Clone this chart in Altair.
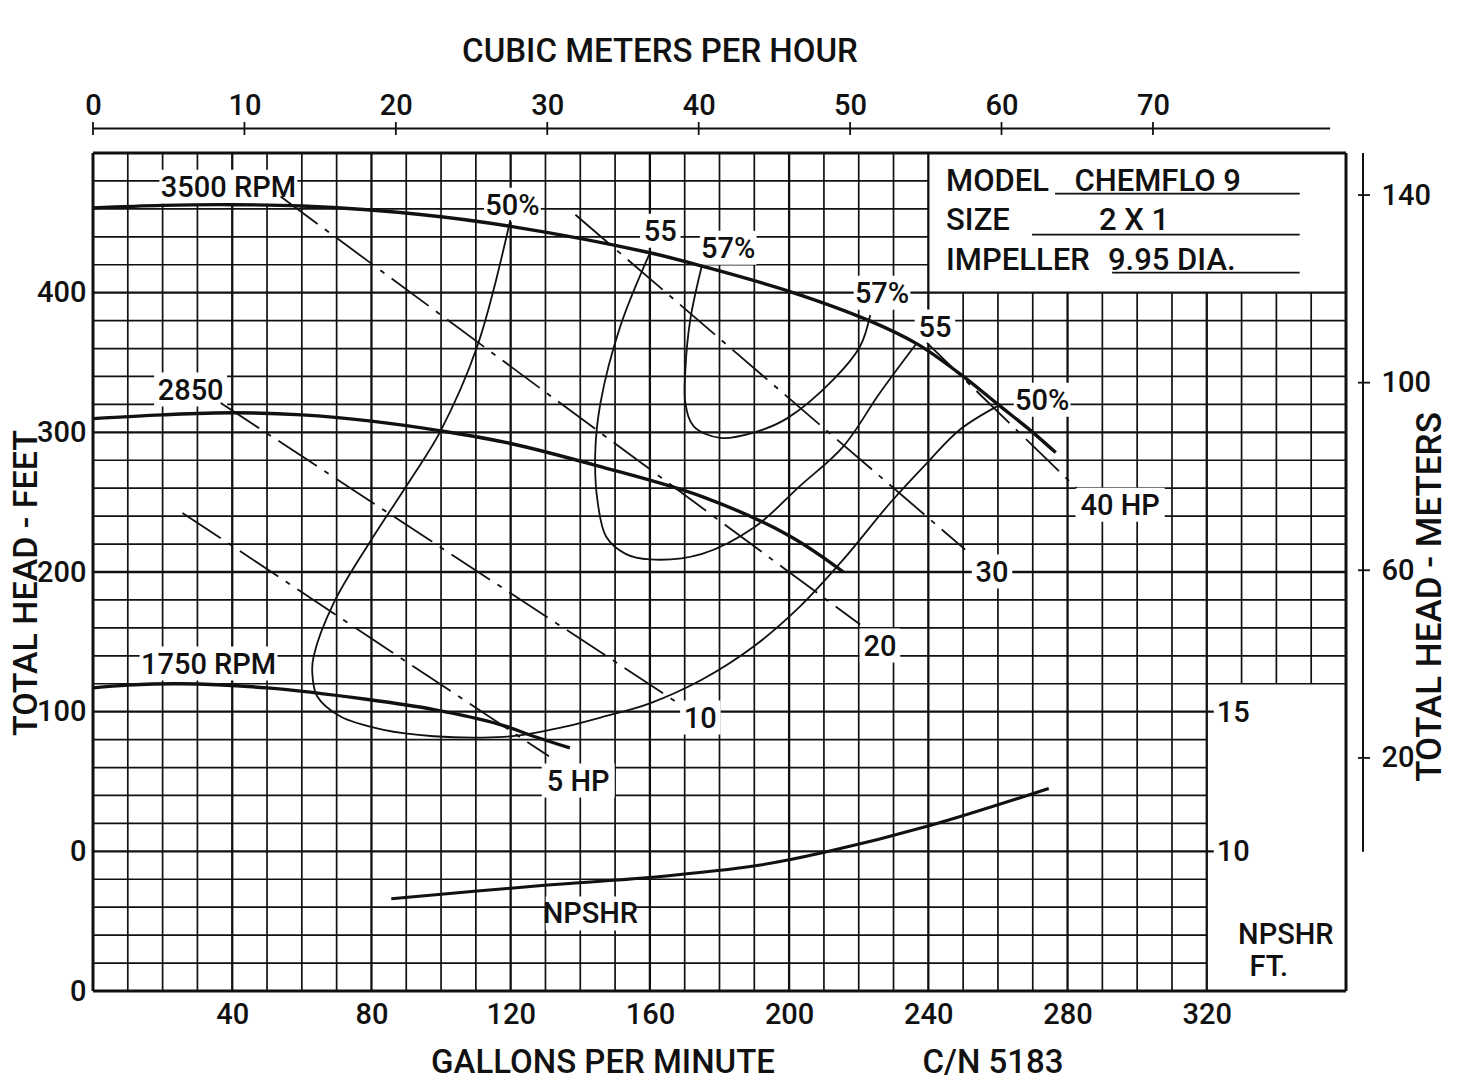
import altair as alt
import pandas as pd

W, H = 1253, 838
XMAX = 360
YMIN, YMAX = -100, 500
M3H_MAX = 82.75
M_MIN, M_MAX = -29.7, 148.96

FONT = "Roboto"
FW = 500
FS = 29
INK = "#111111"

# ---------------- data ----------------
gpm_ticks = [40, 80, 120, 160, 200, 240, 280, 320]
ft_ticks = [-100, 0, 100, 200, 300, 400]
m3h_ticks = [0, 10, 20, 30, 40, 50, 60, 70]
m_ticks = [20, 60, 100, 140]
npshr_tick_ft = [100, 0]
npshr_tick_text = ["15", "10"]

# head-capacity curves (GPM, feet)
q3500 = [0, 20, 40, 60, 94, 120, 160, 175, 200, 223, 237, 249, 260, 270, 276.6]
h3500 = [460.7, 462.5, 463, 462, 456, 447.5, 428.6, 419, 401, 380, 363, 342, 320, 300, 285.5]
q2850 = [0, 20, 40, 60, 80, 100, 120, 145, 175, 200, 215.6]
h2850 = [309.8, 312.5, 314, 312.5, 308, 301, 292, 276, 254, 226, 200]
q1750 = [0, 10, 25, 50, 79, 98, 117, 126.6, 137]
h1750 = [117, 119, 120, 117, 108.7, 101.5, 90.8, 82.4, 74]

# efficiency curves
q_e50 = [119.9, 110.4, 99.8, 91.2, 79.7, 69.2, 63.4, 63, 64.4, 71, 83.5, 97.9, 112, 121.8, 136,
         145.8, 160, 175, 190, 203, 215.6, 229, 239.6, 249.1, 259.7]
h_e50 = [452, 361.6, 300.7, 266, 222, 178, 139.7, 128, 111, 96.7, 87, 82.4, 81.4, 82.8, 89.5,
         95.8, 106, 123, 147, 175, 209, 249.4, 278, 302, 318.6]
q_e55 = [160, 151.5, 145.8, 144.3, 145, 147.5, 153, 160, 175, 190, 203, 215.6, 226, 236.7]
h_e55 = [428.4, 375.9, 321, 285.5, 250, 225, 213, 209, 213, 232, 261.3, 290, 328, 364]
q_e57 = [175, 171.6, 170.2, 170.2, 172.6, 180.2, 189.8, 199.4, 212.7, 220.4, 223.3]
h_e57 = [420, 380.7, 344.9, 321, 304.3, 296, 299.8, 310, 337.7, 361.6, 384]

# horsepower lines (start / end)
hp_names = ["5 HP", "10", "20", "30", "40 HP"]
hp_q0 = [25.7, 36.7, 53.9, 138.6, 239.6]
hp_h0 = [242.3, 321, 468.8, 455.8, 364]
hp_q1 = [131, 168.8, 220.4, 250.6, 282.6]
hp_h1 = [68, 105, 162.4, 216, 260]

# NPSHR curve (plotted against the feet grid)
q_np = [85.7, 128.9, 160.5, 190.8, 211.4, 240.2, 274.6]
h_np = [-34, -24.5, -18.6, -10.2, 0, 18.3, 45]

# curve labels (centre, GPM / feet)
lab_text = ["3500 RPM", "2850", "1750 RPM", "50%", "55", "57%", "57%", "55", "50%",
            "40 HP", "30", "20", "10", "5 HP", "NPSHR"]
lab_q = [38.9, 28.05, 33.2, 120.5, 163.0, 182.5, 226.7, 241.9, 272.7,
         295.1, 258.3, 226.1, 174.5, 139.4, 142.9]
lab_h = [475.9, 330.6, 134.4, 463, 444.4, 432.2, 400, 375.7, 323.4,
         248.2, 200.3, 147.3, 95.8, 50.7, -44.5]

# model box
box_keys = ["MODEL", "SIZE", "IMPELLER"]
box_key_h = [480.2, 452.3, 423.6]
box_vals = ["CHEMFLO 9", "2 X 1", "9.95 DIA."]
box_val_q = [305.9, 299.1, 291.6]
box_val_align = ["center", "center", "left"]
ul_q0 = [276.4, 269.8, 292.8]
ul_q1 = [346.7, 346.7, 346.7]
ul_h = [470.9, 441.5, 414.3]

# ---------------- scales ----------------
xs = alt.Scale(domain=[0, XMAX], nice=False, zero=False)
ys = alt.Scale(domain=[YMIN, YMAX], nice=False, zero=False)
m3s = alt.Scale(domain=[0, M3H_MAX], nice=False, zero=False)
ms = alt.Scale(domain=[M_MIN, M_MAX], nice=False, zero=False)
PX_Q = XMAX / W
PX_H = (YMAX - YMIN) / H

AX = dict(title=None, domain=False, ticks=False, tickSize=0, grid=False, labelFont=FONT,
          labelFontWeight=FW, labelFontSize=FS, labelColor=INK, labelFlush=False, labelOverlap=False)


def X(f, **k):
    return alt.X(f, scale=xs, axis=None, **k)


def Y(f, **k):
    return alt.Y(f, scale=ys, axis=None, **k)


# ---------------- grid ----------------
vrows = []
for g in range(0, XMAX + 1, 10):
    y0, y1 = YMIN, YMAX
    if 240 < g < XMAX:
        y1 = 400
    if 320 < g < XMAX:
        y0 = 120
    w = 3.0 if g in (0, XMAX) else (2.3 if g % 40 == 0 else 1.7)
    vrows.append({"x": g, "y": y0, "y2": y1, "w": w})
hrows = []
for h in range(YMIN, YMAX + 1, 20):
    x0, x1 = 0, XMAX
    if 400 < h < YMAX:
        x1 = 240
    if YMIN < h < 120:
        x1 = 322 if h in (0, 100) else 320
    w = 3.0 if h in (YMIN, YMAX) else (2.3 if h % 100 == 0 else 1.7)
    hrows.append({"y": h, "x": x0, "x2": x1, "w": w})

grid_v = alt.Chart(pd.DataFrame(vrows)).mark_rule(color=INK).encode(
    x=alt.X("x:Q", scale=xs, axis=alt.Axis(orient="bottom", values=gpm_ticks, labelPadding=9, **AX)),
    y=Y("y:Q"), y2="y2:Q",
    strokeWidth=alt.StrokeWidth("w:Q", scale=None),
)
grid_h = alt.Chart(pd.DataFrame(hrows)).mark_rule(color=INK).encode(
    y=alt.Y("y:Q", scale=ys, axis=alt.Axis(orient="left", values=ft_ticks, labelPadding=7,
                                            labelExpr="datum.value == -100 ? '0' : datum.label", **AX)),
    x=X("x:Q"), x2="x2:Q",
    strokeWidth=alt.StrokeWidth("w:Q", scale=None),
)

# ---------------- label backgrounds ----------------
brows = []
for t, q, h in zip(lab_text, lab_q, lab_h):
    wpx = 0.56 * FS * len(t) + 8
    hpx = 34
    brows.append({"x": q - wpx / 2 * PX_Q, "x2": q + wpx / 2 * PX_Q,
                  "y": h - hpx / 2 * PX_H, "y2": h + hpx / 2 * PX_H})
boxes = alt.Chart(pd.DataFrame(brows)).mark_rect(color="white").encode(
    x=X("x:Q"), x2="x2:Q", y=Y("y:Q"), y2="y2:Q")


# ---------------- curves ----------------
def curve_df(name, qs, hs):
    return pd.DataFrame({"name": name, "q": qs, "h": hs, "i": range(len(qs))})


hq = pd.concat([curve_df("3500", q3500, h3500), curve_df("2850", q2850, h2850),
                curve_df("1750", q1750, h1750)])
eff = pd.concat([curve_df("e50", q_e50, h_e50), curve_df("e55", q_e55, h_e55),
                 curve_df("e57", q_e57, h_e57)])
hp = pd.concat([curve_df(n, [a, b], [c, d]) for n, a, c, b, d in zip(hp_names, hp_q0, hp_h0, hp_q1, hp_h1)])
npd = curve_df("np", q_np, h_np)


def lines(df, width, dash=None, interp="catmull-rom"):
    kw = dict(color=INK, strokeWidth=width, interpolate=interp, clip=False)
    if dash:
        kw["strokeDash"] = dash
    return alt.Chart(df).mark_line(**kw).encode(
        x=X("q:Q"), y=Y("h:Q"), detail="name:N", order="i:Q")


hq_l = lines(hq, 3.4)
eff_l = lines(eff, 1.8)
hp_l = lines(hp, 1.8, dash=[46, 9, 5, 9], interp="linear")
np_l = lines(npd, 3.0)

# ---------------- text ----------------
tstyle = dict(font=FONT, fontWeight=FW, fontSize=FS, color=INK)
bstyle = dict(font=FONT, fontWeight=FW, fontSize=31, color=INK)
labels = alt.Chart(pd.DataFrame({"t": lab_text, "q": lab_q, "h": lab_h})).mark_text(
    align="center", baseline="middle", dy=1, **tstyle).encode(x=X("q:Q"), y=Y("h:Q"), text="t:N")

npt = alt.Chart(pd.DataFrame({"t": npshr_tick_text, "h": npshr_tick_ft, "q": [322] * 2})).mark_text(
    align="left", baseline="middle", dx=3, dy=1, **tstyle).encode(x=X("q:Q"), y=Y("h:Q"), text="t:N")

np_unit = alt.Chart(pd.DataFrame({"t": ["NPSHR", "FT."], "q": [342.7, 337.8], "h": [-59.9, -82.5]})).mark_text(
    align="center", baseline="middle", **tstyle).encode(x=X("q:Q"), y=Y("h:Q"), text="t:N")

key_t = alt.Chart(pd.DataFrame({"t": box_keys, "h": box_key_h, "q": [245.1] * 3})).mark_text(
    align="left", baseline="middle", dy=1, **bstyle).encode(x=X("q:Q"), y=Y("h:Q"), text="t:N")
val_df = pd.DataFrame({"t": box_vals, "q": box_val_q, "h": box_key_h, "a": box_val_align})
val_c = alt.Chart(val_df[val_df.a == "center"]).mark_text(
    align="center", baseline="middle", dy=1, **bstyle).encode(x=X("q:Q"), y=Y("h:Q"), text="t:N")
val_l = alt.Chart(val_df[val_df.a == "left"]).mark_text(
    align="left", baseline="middle", dy=1, **bstyle).encode(x=X("q:Q"), y=Y("h:Q"), text="t:N")
ul = alt.Chart(pd.DataFrame({"a": ul_q0, "b": ul_q1, "h": ul_h})).mark_rule(color=INK, strokeWidth=1.8).encode(
    x=X("a:Q"), x2="b:Q", y=Y("h:Q"))


def title_text(txt, x, y, size, angle=0):
    return alt.Chart(pd.DataFrame({"t": [txt]})).mark_text(
        align="center", baseline="middle", angle=angle, font=FONT, fontWeight=FW,
        fontSize=size, color=INK).encode(x=alt.value(x), y=alt.value(y), text="t:N")


titles = [
    title_text("CUBIC METERS PER HOUR", 567, -101, 33),
    title_text("GALLONS PER MINUTE", 510, 910, 33),
    title_text("C/N 5183", 900, 910, 33),
    title_text("TOTAL HEAD - FEET", -66, 430, 34, 270),
    title_text("TOTAL HEAD - METERS", 1337, 444, 35, 270),
]

# ---------------- top axis (m3/h) ----------------
top_ticks = alt.Chart(pd.DataFrame({"m": m3h_ticks})).mark_rule(color=INK, strokeWidth=1.8).encode(
    x=alt.X("m:Q", scale=m3s, axis=alt.Axis(orient="top", values=m3h_ticks, labelPadding=33, **AX)),
    y=alt.value(-31), y2=alt.value(-18))
top_line = alt.Chart(pd.DataFrame({"a": [0], "b": [81.7]})).mark_rule(color=INK, strokeWidth=2).encode(
    x=alt.X("a:Q", scale=m3s, axis=None), x2="b:Q", y=alt.value(-24.5))

# ---------------- right axis (m) ----------------
r_ticks = alt.Chart(pd.DataFrame({"m": m_ticks})).mark_rule(color=INK, strokeWidth=1.8).encode(
    y=alt.Y("m:Q", scale=ms, axis=alt.Axis(orient="right", values=m_ticks, labelPadding=35, **AX)),
    x=alt.value(1265), x2=alt.value(1277))
r_line = alt.Chart(pd.DataFrame({"a": [0], "b": [M_MAX]})).mark_rule(color=INK, strokeWidth=2).encode(
    y=alt.Y("a:Q", scale=ms, axis=None), y2="b:Q", x=alt.value(1270))

chart = alt.layer(
    grid_v, grid_h, boxes, hq_l, eff_l, hp_l, np_l, labels, npt, np_unit,
    key_t, val_c, val_l, ul, *titles, top_ticks, top_line, r_ticks, r_line,
).resolve_scale(x="independent", y="independent").resolve_axis(
    x="independent", y="independent").properties(
    width=W, height=H, autosize=alt.AutoSizeParams(type="none"),
    padding={"left": 85, "top": 145, "right": 105, "bottom": 92},
    background="white",
).configure_view(strokeWidth=0)

chart.save("out.html", embed_options={"renderer": "svg", "actions": False})
